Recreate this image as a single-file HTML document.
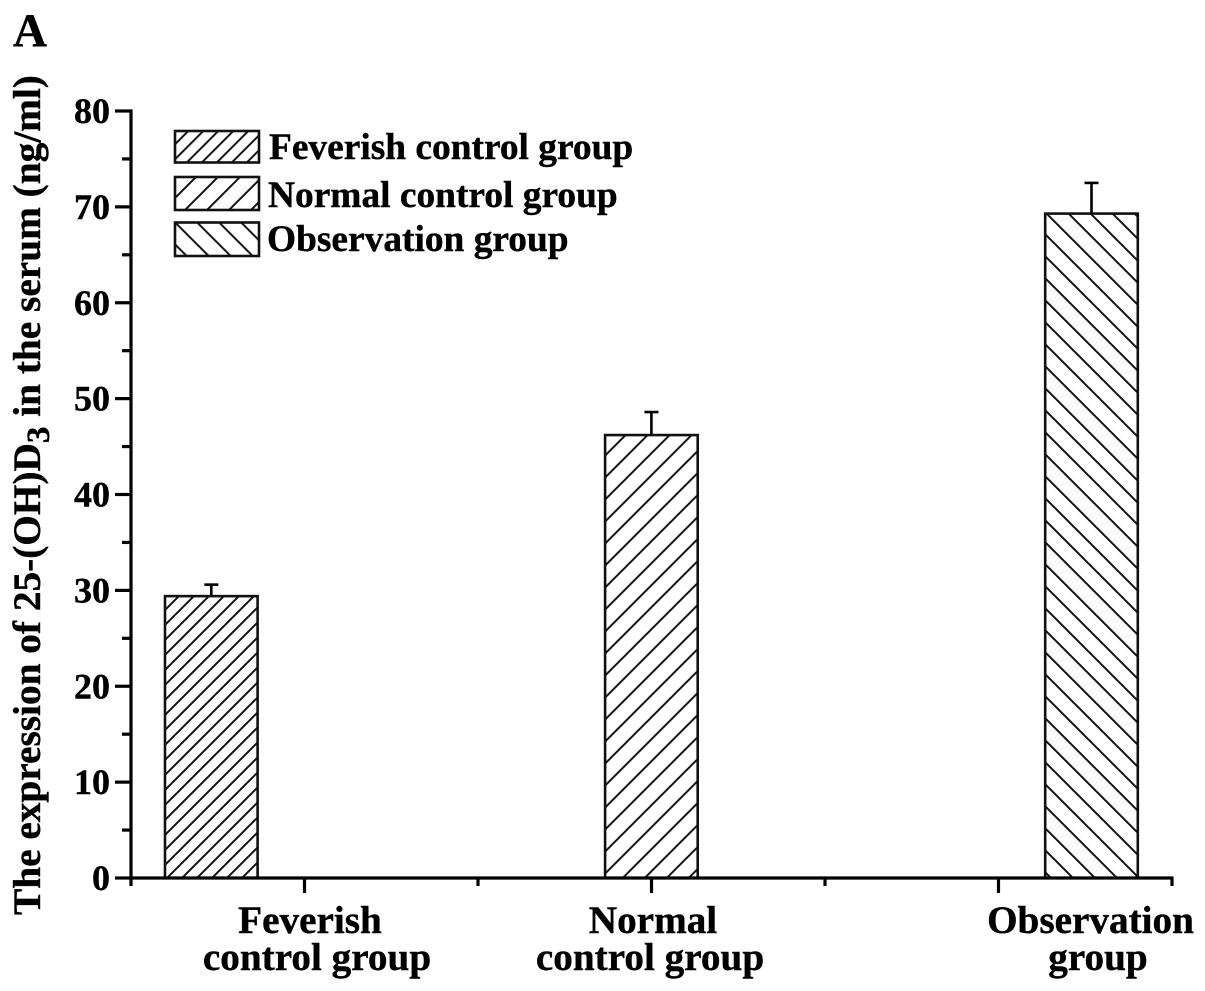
<!DOCTYPE html>
<html lang="en">
<head>
<meta charset="utf-8">
<title>25-(OH)D3 expression bar chart</title>
<style>
html,body{margin:0;padding:0;background:#fff;}
svg{display:block;}
text{font-family:"Liberation Serif",serif;font-weight:bold;fill:#000;stroke:#000;stroke-width:0.4px;}
</style>
</head>
<body>
<svg id="chart" xmlns="http://www.w3.org/2000/svg" width="1205" height="991" viewBox="0 0 1205 991">
  <defs>
    <pattern id="hatch-feverish" patternUnits="userSpaceOnUse" x="775" y="0" width="15" height="15">
      <path d="M-2 17L17 -2M-2 2L2 -2M13 17L17 13" stroke="#111" stroke-width="2" fill="none"/>
    </pattern>
    <pattern id="hatch-normal" patternUnits="userSpaceOnUse" x="1060.7" y="0" width="22" height="22">
      <path d="M-2 24L24 -2M-2 2L2 -2M20 24L24 20" stroke="#111" stroke-width="2" fill="none"/>
    </pattern>
    <pattern id="hatch-observation" patternUnits="userSpaceOnUse" x="855" y="0" width="22" height="22">
      <path d="M-2 -2L24 24M20 -2L24 2M-2 20L2 24" stroke="#111" stroke-width="2" fill="none"/>
    </pattern>
    <pattern id="legend-hatch-feverish" patternUnits="userSpaceOnUse" x="319.3" y="0" width="15" height="15">
      <path d="M-2 17L17 -2M-2 2L2 -2M13 17L17 13" stroke="#111" stroke-width="2" fill="none"/>
    </pattern>
    <pattern id="legend-hatch-normal" patternUnits="userSpaceOnUse" x="373" y="0" width="22" height="22">
      <path d="M-2 24L24 -2M-2 2L2 -2M20 24L24 20" stroke="#111" stroke-width="2" fill="none"/>
    </pattern>
    <pattern id="legend-hatch-observation" patternUnits="userSpaceOnUse" x="-25.3" y="0" width="22" height="22">
      <path d="M-2 -2L24 24M20 -2L24 2M-2 20L2 24" stroke="#111" stroke-width="2" fill="none"/>
    </pattern>
  </defs>

  <text x="13" y="46" font-size="47">A</text>

  <text transform="translate(40,915) rotate(-90)" font-size="39.3">The expression of 25-(OH)D<tspan dy="9" font-size="33">3</tspan><tspan dy="-9"> in the serum (ng/ml)</tspan></text>

  <g id="marks"></g>
  <g id="axes"></g>

  <g>
    <rect x="175" y="131" width="84" height="31.5" fill="url(#legend-hatch-feverish)" stroke="#111" stroke-width="2.6"/>
    <text x="269" y="159" font-size="37.4">Feverish control group</text>
    <rect x="175" y="177" width="84" height="33" fill="url(#legend-hatch-normal)" stroke="#111" stroke-width="2.6"/>
    <text x="268" y="207" font-size="37.4">Normal control group</text>
    <rect x="175" y="222.5" width="84" height="33.5" fill="url(#legend-hatch-observation)" stroke="#111" stroke-width="2.6"/>
    <text x="267" y="251" font-size="37.4">Observation group</text>
  </g>

  <g text-anchor="middle">
    <text x="310" y="933" font-size="39.2" text-anchor="middle">Feverish</text>
    <text x="317" y="970" font-size="39.2" text-anchor="middle">control group</text>
    <text x="653" y="933" font-size="39.2" text-anchor="middle">Normal</text>
    <text x="650" y="970" font-size="39.2" text-anchor="middle">control group</text>
    <text x="1090.5" y="933" font-size="39.2" text-anchor="middle">Observation</text>
    <text x="1098" y="970" font-size="39.2" text-anchor="middle">group</text>
  </g>
</svg>
<script>
const categories = ["Feverish control group", "Normal control group", "Observation group"];
const meanValues = [29.4, 46.2, 69.3];
const errorValues = [1.2, 2.4, 3.2];
const hatchIds = ["hatch-feverish", "hatch-normal", "hatch-observation"];
const yTickLabels = [0, 10, 20, 30, 40, 50, 60, 70, 80];

const NS = "http://www.w3.org/2000/svg";
const marks = document.getElementById("marks");
const axes = document.getElementById("axes");

function yScale(v) { return 878 - v * 9.5875; }
function barCenter(i) { return 211.3 + i * 440.1; }
function xTick(n) { return 131 + n * 173.5; }

function line(parent, x1, y1, x2, y2, width) {
  const l = document.createElementNS(NS, "line");
  l.setAttribute("x1", x1);
  l.setAttribute("y1", y1);
  l.setAttribute("x2", x2);
  l.setAttribute("y2", y2);
  l.setAttribute("stroke", "#000");
  l.setAttribute("stroke-width", width);
  parent.appendChild(l);
  return l;
}

categories.forEach(function (name, i) {
  const cx = barCenter(i);
  const top = yScale(meanValues[i]);
  const errTop = yScale(meanValues[i] + errorValues[i]);

  const stem = line(marks, cx, top, cx, errTop, 2.6);
  
  

  const cap = line(marks, cx - 7, errTop, cx + 7, errTop, 2.6);
  
  

  const bar = document.createElementNS(NS, "rect");
  bar.setAttribute("x", cx - 46.3);
  bar.setAttribute("y", top);
  bar.setAttribute("width", 92.6);
  bar.setAttribute("height", yScale(0) - top);
  bar.setAttribute("fill", "url(#" + hatchIds[i] + ")");
  bar.setAttribute("stroke", "#111");
  bar.setAttribute("stroke-width", 2.6);
  
  
  marks.appendChild(bar);
});

const yAxisLine = line(axes, 131, yScale(80) - 1.6, 131, 880, 3.2);



const xAxisLine = line(axes, 131, yScale(0), 1173.5, yScale(0), 3.2);



yTickLabels.forEach(function (v) {
  const y = yScale(v);
  const major = line(axes, 115, y, 131, y, 3.2);
  
  

  if (v < 80) {
    const minorY = yScale(v + 5);
    const minor = line(axes, 122, minorY, 131, minorY, 3.2);
    
    
  }

  const t = document.createElementNS(NS, "text");
  t.setAttribute("x", 110);
  t.setAttribute("y", y + 12);
  t.setAttribute("font-size", 36);
  t.setAttribute("text-anchor", "end");
  t.textContent = v;
  
  
  axes.appendChild(t);
});

[0, 1, 2, 3, 4, 5, 6].forEach(function (n) {
  const isMajor = n % 2 === 1;
  const tick = line(axes, xTick(n), yScale(0), xTick(n), isMajor ? 893 : 886, 3.2);
  
  
});
</script>
</body>
</html>
